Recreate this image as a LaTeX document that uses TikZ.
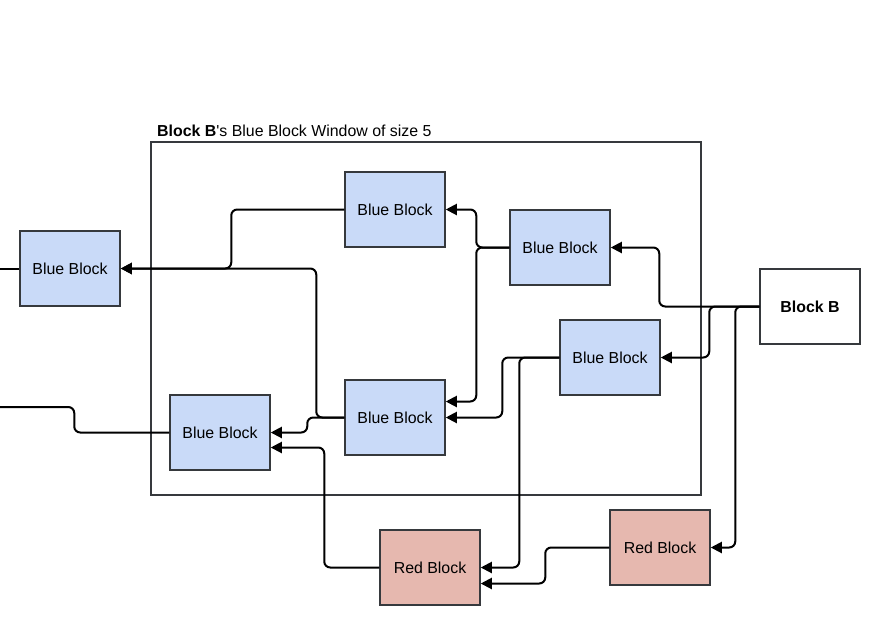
\documentclass[tikz,border=0pt]{standalone}
\usepackage{fontspec}
\setmainfont{Liberation Sans}
\usetikzlibrary{arrows.meta}
\definecolor{bluefill}{HTML}{C9DAF8}
\definecolor{redfill}{HTML}{E6B8AF}
\definecolor{bordercol}{HTML}{36393D}
\begin{document}
\begin{tikzpicture}[x=1pt,y=-1pt,
  box/.style={draw=bordercol,line width=1.5pt,minimum width=100pt,minimum height=75pt,inner sep=0pt,font=\fontsize{15.9}{18}\selectfont},
  bluebox/.style={box,fill=bluefill},
  redbox/.style={box,fill=redfill},
  link/.style={line width=2pt,rounded corners=6pt},
  arr/.style={link,-{Triangle[length=11pt,width=11pt]}}]
\useasboundingbox (0,0) rectangle (886,633);
\node[draw=bordercol,line width=1.5pt,minimum width=550pt,minimum height=353pt,anchor=north west,inner sep=0pt] (W) at (150,141) {};
\node[anchor=base west,inner sep=0pt,font=\fontsize{15.9}{18}\selectfont] (title) at (157,136) {\textbf{Block B}\textquotesingle s Blue Block Window of size 5};

\coordinate (e1) at (0,407);
\coordinate (e2) at (0,268.5);

\node[bluebox] (T) at (395,209.5) {Blue Block};
\node[bluebox] (R1) at (560,247.5) {Blue Block};
\node[bluebox] (R2) at (610,357.5) {Blue Block};
\node[bluebox] (M) at (395,417.5) {Blue Block};
\node[bluebox] (L) at (220,432.5) {Blue Block};
\node[bluebox] (O) at (70,268.5) {Blue Block};
\node[box,fill=white,font=\fontsize{15.9}{18}\selectfont\bfseries] (B) at (810,306.5) {Block B};
\node[redbox] (RB1) at (430,567.5) {Red Block};
\node[redbox] (RB2) at (660,547.5) {Red Block};

\draw[arr] (B.west) -- ++(-100,0) |- (R1.east);
\draw[arr] (B.west) -- ++(-50,0) |- (R2.east);
\draw[arr] (B.west) -- ++(-24,0) |- (RB2.east);
\draw[arr] (R1.west) -- ++(-33,0) |- (T.east);
\draw[arr] (R1.west) -- ++(-33,0) |- ([yshift=16pt]M.east);
\draw[arr] (R2.west) -- ++(-57,0) |- (M.east);
\draw[arr] (R2.west) -- ++(-40,0) |- (RB1.east);
\draw[arr] (RB2.west) -- ++(-64,0) |- ([yshift=-16pt]RB1.east);
\draw[arr] (T.west) -- ++(-113,0) |- (O.east);
\draw[arr] (M.west) -- ++(-28,0) |- (O.east);
\draw[arr] (M.west) -- ++(-37,0) |- (L.east);
\draw[arr] (RB1.west) -- ++(-55,0) |- ([yshift=-15pt]L.east);
\draw[link] (L.west) -- ++(-95,0) |- (e1);
\draw[link] (O.west) -- (e2);
\end{tikzpicture}
\end{document}
